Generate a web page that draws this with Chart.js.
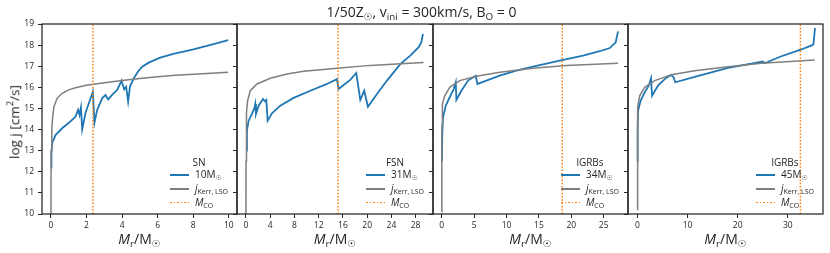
<!DOCTYPE html>
<html>
<head>
<meta charset="utf-8">
<script src="https://cdn.jsdelivr.net/npm/chart.js@4.4.1/dist/chart.umd.min.js"></script>
<style>
  body { margin: 0; width: 830px; height: 253px; position: relative; overflow: hidden; background: #fff;
         font-family: 'Open Sans', 'DejaVu Sans', sans-serif; color: #262626; }
  canvas { position: absolute; left: 0; top: 0; }
  .txt { position: absolute; white-space: nowrap; }
  .sb { font-size: 70%; position: relative; top: 0.3em; }
  .leg { position: absolute; font-size: 10px; }
  .leg .lt { text-align: center; line-height: 11.8px; }
  .leg .row { position: relative; line-height: 13.8px; height: 13.8px; white-space: nowrap; padding-left: 25px; }
  .leg .sw { position: absolute; left: 0; top: 6px; width: 19px; height: 2px; }
</style>
</head>
<body>
<canvas id="c0" width="830" height="253"></canvas>
<canvas id="c1" width="830" height="253"></canvas>
<canvas id="c2" width="830" height="253"></canvas>
<canvas id="c3" width="830" height="253"></canvas>

<div class="txt" id="title" style="left:0;width:843px;top:2px;text-align:center;font-size:14px;">
  1/50Z<span class="sb">☉</span>, v<span class="sb">ini</span> = 300km/s, B<span class="sb">O</span> = 0
</div>
<div class="txt" style="left:12.5px;top:122px;font-size:13.5px;transform:translate(-50%,-50%) rotate(-90deg);">
  log j [cm<sup style="font-size:70%">2</sup>/s]
</div>

<script>
'use strict';

// y軸 (log j)
const yTicks = [10, 11, 12, 13, 14, 15, 16, 17, 18, 19];

// SN, 10Msun
const sn_xTicks = [0, 2, 4, 6, 8, 10];
const sn_mass = [0.01, 0.03, 0.07, 0.26, 0.63, 1.01, 1.38, 1.53, 1.61, 1.69, 1.76, 1.94, 2.23, 2.36, 2.45, 2.6,
  2.88, 3.07, 3.22, 3.44, 3.72, 3.97, 4.12, 4.23, 4.34, 4.45, 4.66, 4.9, 5.13, 5.5, 6.14, 6.89, 8.01, 9.14, 9.96];
const sn_logj = [12.2, 12.9, 13.35, 13.74, 14.06, 14.32, 14.61, 14.93, 14.69, 15.05, 14.01, 14.77, 15.48, 15.79, 14.32, 14.93,
  15.48, 15.64, 15.43, 15.64, 15.87, 16.31, 15.91, 16.03, 15.32, 16.06, 16.43, 16.75, 16.98, 17.17, 17.41, 17.58, 17.8, 18.05, 18.24];
const sn_kerrMass = [0, 0.005, 0.02, 0.05, 0.1, 0.17, 0.35, 0.63, 1.0, 1.38, 2.0, 3.0, 4.0, 5.0, 6.0, 7.0, 8.0, 9.0, 9.96];
const sn_kerrLogj = [10, 11.6, 13.0, 14.0, 14.6, 15.08, 15.48, 15.72, 15.88, 15.98, 16.1, 16.22, 16.32, 16.42, 16.5, 16.57, 16.62, 16.67, 16.71];
const sn_mco = 2.36;

// FSN, 31Msun
const fsn_xTicks = [0, 4, 8, 12, 16, 20, 24, 28];
const fsn_mass = [0.02, 0.16, 0.44, 0.99, 1.43, 1.54, 1.65, 2.09, 2.81, 3.14, 3.36, 3.58, 4.29, 5.66, 7.87, 10.62,
  13.37, 15.02, 15.29, 16.11, 17.21, 18.2, 18.87, 19.52, 20.13, 21.62, 23.27, 25.47, 27.12, 28.5, 28.94, 29.21];
const fsn_logj = [13.0, 13.95, 14.42, 14.74, 15.05, 15.21, 14.74, 15.13, 15.45, 15.34, 15.4, 14.42, 14.77, 15.13, 15.5, 15.84,
  16.16, 16.39, 15.92, 16.11, 16.35, 16.68, 15.4, 15.84, 15.08, 15.68, 16.32, 17.1, 17.5, 17.9, 18.13, 18.53];
const fsn_kerrMass = [0, 0.01, 0.05, 0.12, 0.27, 0.71, 1.82, 4.02, 6.77, 9.52, 15.02, 20.52, 24.9, 29.3];
const fsn_kerrLogj = [10, 12.5, 14.0, 14.8, 15.37, 15.84, 16.16, 16.43, 16.63, 16.76, 16.9, 17.04, 17.1, 17.18];
const fsn_mco = 15.2;

// lGRBs, 34Msun
const grb34_xTicks = [0, 5, 10, 15, 20, 25];
const grb34_mass = [0.03, 0.08, 0.2, 0.62, 1.23, 1.85, 2.16, 2.26, 3.03, 4.06, 5.25, 5.5, 6.89, 8.95, 11.52,
  14.09, 18.21, 21.81, 24.38, 25.93, 26.85, 27.21];
const grb34_logj = [12.5, 13.8, 14.58, 15.13, 15.53, 15.92, 16.24, 15.4, 15.84, 16.32, 16.55, 16.16, 16.32, 16.55, 16.79,
  16.98, 17.26, 17.5, 17.71, 17.86, 18.13, 18.65];
const grb34_kerrMass = [0, 0.01, 0.04, 0.1, 0.46, 1.23, 2.78, 5.34, 8.95, 14.09, 19.23, 27.21];
const grb34_kerrLogj = [10.1, 12.5, 14.2, 15.21, 15.6, 16.0, 16.32, 16.52, 16.71, 16.9, 17.03, 17.14];
const grb34_mco = 18.6;

// lGRBs, 45Msun
const grb45_xTicks = [0, 10, 20, 30];
const grb45_mass = [0.02, 0.06, 0.14, 0.67, 1.47, 2.27, 2.73, 2.93, 4.12, 5.45, 6.65, 7.17, 7.57, 11.43, 18.07,
  25.04, 25.37, 28.44, 32.4, 34.9, 35.1, 35.4];
const grb45_logj = [12.5, 14.0, 14.89, 15.37, 15.76, 16.08, 16.43, 15.6, 16.08, 16.39, 16.58, 16.5, 16.24, 16.5, 16.92,
  17.22, 17.14, 17.45, 17.77, 18.0, 18.05, 18.81];
const grb45_kerrMass = [0, 0.01, 0.05, 0.12, 0.47, 1.47, 3.47, 6.78, 11.43, 18.07, 24.71, 35.34];
const grb45_kerrLogj = [10.2, 12.5, 14.3, 15.05, 15.6, 16.0, 16.32, 16.6, 16.79, 16.98, 17.14, 17.29];
const grb45_mco = 32.5;

const legendTitles = ['SN', 'FSN', 'lGRBs', 'lGRBs'];
const massLabels = ['10', '31', '34', '45'];

// パネル配置 (px) と軸範囲
const panels = [
  { left: 42,  right: 237, xmin: -0.5,  xmax: 10.46, ticks: sn_xTicks,    m: sn_mass,    j: sn_logj,    km: sn_kerrMass,    kj: sn_kerrLogj,    mco: sn_mco },
  { left: 237, right: 433, xmin: -1.48, xmax: 30.87, ticks: fsn_xTicks,   m: fsn_mass,   j: fsn_logj,   km: fsn_kerrMass,   kj: fsn_kerrLogj,   mco: fsn_mco },
  { left: 433, right: 628, xmin: -1.35, xmax: 28.75, ticks: grb34_xTicks, m: grb34_mass, j: grb34_logj, km: grb34_kerrMass, kj: grb34_kerrLogj, mco: grb34_mco },
  { left: 628, right: 823, xmin: -1.86, xmax: 37.0,  ticks: grb45_xTicks, m: grb45_mass, j: grb45_logj, km: grb45_kerrMass, kj: grb45_kerrLogj, mco: grb45_mco },
];

const INK = '#262626';
const BLUE = '#1f77b4';
const GRAY = '#7f7f7f';
const ORANGE = '#ff7f0e';

const zip = (xs, ys) => xs.map((x, i) => ({ x: x, y: ys[i] }));

// 枠 (4辺のスパイン)
const frame = {
  id: 'frame',
  afterDatasetsDraw(chart) {
    const { ctx, chartArea: a } = chart;
    ctx.save();
    ctx.strokeStyle = INK;
    ctx.lineWidth = 1.25;
    ctx.strokeRect(a.left, a.top, a.right - a.left, a.bottom - a.top);
    ctx.restore();
  }
};

panels.forEach((p, i) => {
  const yw = i === 0 ? 30 : 10;
  new Chart(document.getElementById('c' + i), {
    type: 'line',
    data: {
      datasets: [
        { data: [{ x: p.mco, y: 10 }, { x: p.mco, y: 19 }], borderColor: ORANGE, borderWidth: 1.5, borderDash: [1.5, 1.8] },
        { data: zip(p.km, p.kj), borderColor: GRAY, borderWidth: 1.5 },
        { data: zip(p.m, p.j), borderColor: BLUE, borderWidth: 1.8 },
      ]
    },
    options: {
      responsive: false,
      animation: false,
      events: [],
      layout: { padding: { left: p.left - yw, right: 830 - p.right, top: 24, bottom: 19 } },
      elements: { point: { radius: 0 }, line: { tension: 0 } },
      plugins: { legend: { display: false }, tooltip: { enabled: false } },
      scales: {
        x: {
          type: 'linear',
          min: p.xmin,
          max: p.xmax,
          afterBuildTicks: s => { s.ticks = p.ticks.map(v => ({ value: v })); },
          afterFit: s => { s.height = 20; },
          border: { display: false },
          grid: { drawOnChartArea: false, tickLength: 4, color: INK, tickWidth: 1 },
          ticks: { padding: 2, color: INK, font: { family: 'Open Sans', size: 8.5 }, maxRotation: 0 },
        },
        y: {
          type: 'linear',
          min: 10,
          max: 19,
          afterBuildTicks: s => { s.ticks = yTicks.map(v => ({ value: v })); },
          afterFit: s => { s.width = yw; },
          border: { display: false },
          grid: { drawOnChartArea: false, tickLength: 4, color: INK, tickWidth: 1 },
          ticks: { display: i === 0, padding: 4, color: INK, font: { family: 'Open Sans', size: 8.5 } },
        }
      }
    },
    plugins: [frame]
  });

  // x軸ラベル
  const xl = document.createElement('div');
  xl.className = 'txt';
  xl.style.cssText = `left:${(p.left + p.right) / 2}px;top:238px;font-size:14px;transform:translate(-50%,-50%);`;
  xl.innerHTML = '<i>M</i><span class="sb">r</span>/M<span class="sb">☉</span>';
  document.body.appendChild(xl);

  // 凡例
  const lg = document.createElement('div');
  lg.className = 'leg';
  lg.style.right = (830 - p.right + 9) + 'px';
  lg.style.top = '156.5px';
  const dots = `repeating-linear-gradient(90deg, ${ORANGE} 0 1.5px, transparent 1.5px 3.6px)`;
  lg.innerHTML =
    `<div class="lt">${legendTitles[i]}</div>` +
    `<div class="row"><span class="sw" style="background-color:${BLUE}"></span>${massLabels[i]}M<span class="sb">☉</span></div>` +
    `<div class="row"><span class="sw" style="background-color:${GRAY};height:1.6px"></span><i>j</i><span class="sb">Kerr, LSO</span></div>` +
    `<div class="row"><span class="sw" style="background:${dots};height:1.5px"></span><i>M</i><span class="sb">CO</span></div>`;
  document.body.appendChild(lg);
});
</script>
</body>
</html>
